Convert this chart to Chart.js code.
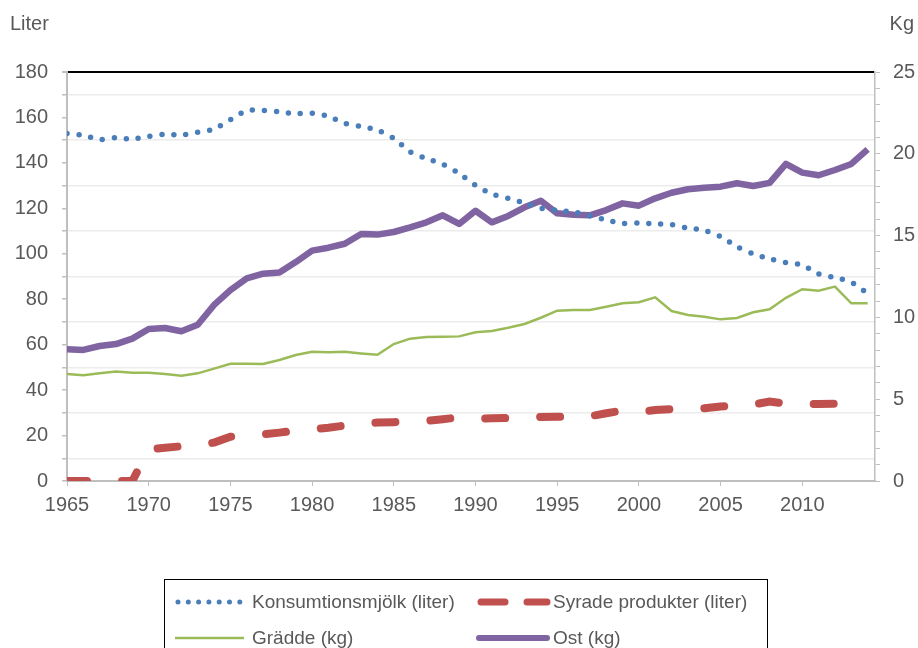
<!DOCTYPE html>
<html>
<head>
<meta charset="utf-8">
<script src="https://cdn.jsdelivr.net/npm/chart.js@4"></script>
<style>
  body { margin: 0; background: #fff; font-family: 'Liberation Sans', Arial, sans-serif; }
  #wrap { position: relative; width: 918px; height: 648px; overflow: hidden; }
  #legend { position: absolute; left: 164px; top: 579px; width: 604px; height: 80px;
            border: 1.5px solid #000; box-sizing: border-box; color: #595959; font-size: 19px; }
  #legend .item { position: absolute; white-space: nowrap; line-height: 22px; }
  #legend svg { position: absolute; }
</style>
</head>
<body>
<div id="wrap">
  <canvas id="dairy_chart" width="918" height="648"></canvas>
  <div id="legend"></div>
</div>
<script>
// år
const years = [1965, 1966, 1967, 1968, 1969, 1970, 1971, 1972, 1973, 1974,
               1975, 1976, 1977, 1978, 1979, 1980, 1981, 1982, 1983, 1984,
               1985, 1986, 1987, 1988, 1989, 1990, 1991, 1992, 1993, 1994,
               1995, 1996, 1997, 1998, 1999, 2000, 2001, 2002, 2003, 2004,
               2005, 2006, 2007, 2008, 2009, 2010, 2011, 2012, 2013, 2014];
const yearTicks = [1965, 1970, 1975, 1980, 1985, 1990, 1995, 2000, 2005, 2010];

// liter per person
const mjolk = [152.9, 152.1, 150.3, 151.1, 150.5, 151.7, 152.6, 152.3, 153.5, 154.9,
               159.0, 162.9, 163.1, 162.5, 161.7, 161.9, 160.5, 157.4, 156.0, 154.4,
               150.8, 144.9, 141.9, 139.4, 135.3, 130.1, 126.4, 124.4, 122.3, 120.1,
               119.1, 118.4, 116.7, 114.9, 113.4, 113.5, 113.2, 112.8, 111.3, 110.3,
               107.6, 103.1, 100.0, 97.8, 96.1, 95.0, 91.1, 89.5, 87.5, 82.5];
const syrade = [0, 0, 0, 0, 0, 14.0, 14.6, 15.3, 15.8, 16.9,
                19.5, 19.7, 20.5, 21.3, 22.2, 22.8, 23.4, 24.4, 25.2, 25.7,
                25.9, 26.2, 26.5, 27.2, 28.0, 27.5, 27.6, 27.7, 27.6, 28.2,
                28.3, 28.0, 28.5, 29.8, 31.0, 30.3, 31.2, 31.6, 31.8, 32.0,
                32.8, 33.4, 33.6, 35.0, 34.0, 34.0, 33.9, 34.0, 33.9, 33.8];
// kg per person
const gradde = [6.54, 6.46, 6.58, 6.70, 6.62, 6.62, 6.54, 6.44, 6.58, 6.87,
                7.17, 7.17, 7.15, 7.40, 7.70, 7.90, 7.87, 7.90, 7.80, 7.72,
                8.37, 8.70, 8.80, 8.82, 8.84, 9.09, 9.17, 9.37, 9.60, 9.98,
                10.41, 10.45, 10.45, 10.65, 10.86, 10.93, 11.23, 10.39, 10.15, 10.04,
                9.88, 9.96, 10.31, 10.50, 11.20, 11.72, 11.63, 11.88, 10.86, 10.86];
const ost = [8.05, 8.01, 8.25, 8.37, 8.70, 9.29, 9.35, 9.15, 9.55, 10.76,
             11.67, 12.39, 12.67, 12.75, 13.38, 14.08, 14.26, 14.50, 15.10, 15.06,
             15.22, 15.50, 15.81, 16.24, 15.71, 16.52, 15.81, 16.20, 16.73, 17.13,
             16.36, 16.28, 16.24, 16.56, 16.97, 16.83, 17.28, 17.62, 17.83, 17.93,
             17.99, 18.20, 18.03, 18.22, 19.38, 18.85, 18.69, 19.01, 19.38, 20.27];

const pts = vals => years.map((yr, i) => ({ x: yr, y: vals[i] }));
const tickFont = { family: "'Liberation Sans', Arial", size: 20 };
const grey = '#bfbfbf';

const unitTitles = {
    id: 'unitTitles',
    afterDraw(chart) {
        const c = chart.ctx;
        c.save();
        c.font = "20px 'Liberation Sans', Arial";
        c.fillStyle = '#595959';
        c.textBaseline = 'alphabetic';
        c.textAlign = 'left';
        c.fillText('Liter', 10, 30);
        c.textAlign = 'right';
        c.fillText('Kg', 914, 30);
        c.restore();
    }
};

let ctx = document.getElementById('dairy_chart').getContext('2d');
let dairy_chart = new Chart(ctx, {
    type: 'line',
    data: {
        datasets: [{
            label: 'Konsumtionsmjölk (liter)',
            data: pts(mjolk),
            yAxisID: 'y',
            borderColor: '#4a7ebb',
            borderWidth: 5.5,
            borderDash: [0, 12],
            borderCapStyle: 'round',
            tension: 0.3,
            pointRadius: 0
        }, {
            label: 'Syrade produkter (liter)',
            data: pts(syrade),
            yAxisID: 'y',
            borderColor: '#c0504d',
            borderWidth: 8,
            borderDash: [20, 35],
            borderCapStyle: 'round',
            pointRadius: 0
        }, {
            label: 'Grädde (kg)',
            data: pts(gradde),
            yAxisID: 'y1',
            borderColor: '#9bbb59',
            borderWidth: 2.5,
            pointRadius: 0
        }, {
            label: 'Ost (kg)',
            data: pts(ost),
            yAxisID: 'y1',
            borderColor: '#8064a2',
            borderWidth: 6.5,
            borderJoinStyle: 'round',
            pointRadius: 0
        }]
    },
    options: {
        responsive: false,
        animation: false,
        layout: { padding: { top: 72, bottom: 127, left: 0, right: 0 } },
        plugins: { legend: { display: false }, tooltip: { enabled: false } },
        scales: {
            x: {
                type: 'linear',
                min: 1965,
                max: 2014.45,
                afterBuildTicks: axis => { axis.ticks = yearTicks.map(v => ({ value: v })); },
                afterFit: axis => { axis.height = 40; },
                border: { color: grey, width: 2 },
                grid: { drawOnChartArea: false, tickLength: 5, tickColor: grey },
                ticks: { autoSkip: false, maxRotation: 0, padding: 7, color: '#595959', font: tickFont,
                         callback: v => String(v) }
            },
            y: {
                position: 'left',
                min: 0,
                max: 180,
                afterFit: axis => { axis.width = 67; },
                border: { color: grey, width: 2 },
                grid: {
                    tickLength: 5,
                    tickColor: grey,
                    color: c => c.tick.value === 180 ? '#000' : (c.tick.value % 20 === 10 ? '#ececec' : 'rgba(0,0,0,0)'),
                    lineWidth: c => c.tick.value === 180 ? 2 : 1.5
                },
                ticks: { stepSize: 10, autoSkip: false, padding: 14, color: '#595959', font: tickFont,
                         callback: v => (v % 20 === 0 ? String(v) : '') }
            },
            y1: {
                position: 'right',
                min: 0,
                max: 25,
                afterFit: axis => { axis.width = 43; },
                border: { color: grey, width: 1.5 },
                grid: { drawOnChartArea: false, tickLength: 5, tickColor: grey },
                ticks: { stepSize: 1, autoSkip: false, padding: 13, color: '#595959', font: tickFont,
                         callback: v => (v % 5 === 0 ? String(v) : '') }
            }
        }
    },
    plugins: [unitTitles]
});

// legend in two columns inside a framed box
const legendRows = [
    { left: 9, top: 22, label: 'Konsumtionsmjölk (liter)',
      svg: '<line x1="4" y1="6" x2="66" y2="6" stroke="#4a7ebb" stroke-width="5" stroke-linecap="round" stroke-dasharray="0 10.3"/>' },
    { left: 310, top: 22, label: 'Syrade produkter (liter)',
      svg: '<line x1="6" y1="6" x2="30" y2="6" stroke="#c0504d" stroke-width="7" stroke-linecap="round"/>' +
           '<line x1="52" y1="6" x2="72" y2="6" stroke="#c0504d" stroke-width="7" stroke-linecap="round"/>' },
    { left: 9, top: 58, label: 'Grädde (kg)',
      svg: '<line x1="1" y1="6" x2="70" y2="6" stroke="#9bbb59" stroke-width="2.5"/>' },
    { left: 310, top: 58, label: 'Ost (kg)',
      svg: '<line x1="4" y1="6" x2="72" y2="6" stroke="#8064a2" stroke-width="6" stroke-linecap="round"/>' }
];
const legendBox = document.getElementById('legend');
legendRows.forEach(r => {
    const s = document.createElementNS('http://www.w3.org/2000/svg', 'svg');
    s.setAttribute('width', '76');
    s.setAttribute('height', '12');
    s.style.left = r.left + 'px';
    s.style.top = (r.top - 6) + 'px';
    s.innerHTML = r.svg;
    legendBox.appendChild(s);
    const t = document.createElement('span');
    t.className = 'item';
    t.textContent = r.label;
    t.style.left = (r.left + 78) + 'px';
    t.style.top = (r.top - 11) + 'px';
    legendBox.appendChild(t);
});
</script>
</body>
</html>
